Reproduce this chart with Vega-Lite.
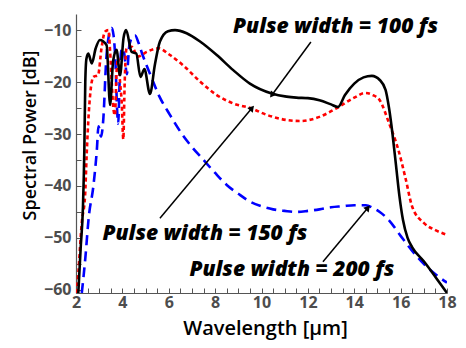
{
  "$schema": "https://vega.github.io/schema/vega-lite/v6.json",
  "width": 371,
  "height": 279,
  "autosize": {"type": "none"},
  "padding": {"left": 76, "top": 14, "right": 19, "bottom": 55},
  "config": {
    "view": {"stroke": null},
    "axis": {
      "grid": false,
      "domainColor": "#555555",
      "domainWidth": 1.2,
      "tickColor": "#555555",
      "tickSize": -5,
      "labelFont": "Open Sans",
      "labelFontSize": 15,
      "labelFontWeight": "bold",
      "labelColor": "#4d4d4d",
      "titleFont": "Open Sans",
      "titleFontSize": 18,
      "titleFontWeight": 600,
      "titleColor": "#000000"
    }
  },
  "datasets": {
    "curves": [
      {"pw": "200 fs", "wl": 2.25, "db": -60.6},
      {"pw": "200 fs", "wl": 2.4, "db": -54},
      {"pw": "200 fs", "wl": 2.55, "db": -46},
      {"pw": "200 fs", "wl": 2.75, "db": -40},
      {"pw": "200 fs", "wl": 2.9, "db": -33},
      {"pw": "200 fs", "wl": 2.97, "db": -28.5},
      {"pw": "200 fs", "wl": 3.08, "db": -30.5},
      {"pw": "200 fs", "wl": 3.18, "db": -27},
      {"pw": "200 fs", "wl": 3.3, "db": -16},
      {"pw": "200 fs", "wl": 3.42, "db": -11},
      {"pw": "200 fs", "wl": 3.54, "db": -9.6},
      {"pw": "200 fs", "wl": 3.62, "db": -11},
      {"pw": "200 fs", "wl": 3.7, "db": -16},
      {"pw": "200 fs", "wl": 3.78, "db": -26},
      {"pw": "200 fs", "wl": 3.82, "db": -28},
      {"pw": "200 fs", "wl": 3.88, "db": -20},
      {"pw": "200 fs", "wl": 3.95, "db": -14},
      {"pw": "200 fs", "wl": 4.04, "db": -13.5},
      {"pw": "200 fs", "wl": 4.12, "db": -16},
      {"pw": "200 fs", "wl": 4.19, "db": -18.5},
      {"pw": "200 fs", "wl": 4.3, "db": -13},
      {"pw": "200 fs", "wl": 4.45, "db": -11.2},
      {"pw": "200 fs", "wl": 4.54, "db": -11},
      {"pw": "200 fs", "wl": 4.7, "db": -12.5},
      {"pw": "200 fs", "wl": 4.85, "db": -14.5},
      {"pw": "200 fs", "wl": 5.0, "db": -16.3},
      {"pw": "200 fs", "wl": 5.2, "db": -18.5},
      {"pw": "200 fs", "wl": 5.6, "db": -22.8},
      {"pw": "200 fs", "wl": 6.05, "db": -26.3},
      {"pw": "200 fs", "wl": 6.6, "db": -30.2},
      {"pw": "200 fs", "wl": 7.0, "db": -32.5},
      {"pw": "200 fs", "wl": 7.5, "db": -35},
      {"pw": "200 fs", "wl": 8.0, "db": -37.5},
      {"pw": "200 fs", "wl": 8.5, "db": -39.8},
      {"pw": "200 fs", "wl": 9.0, "db": -41.5},
      {"pw": "200 fs", "wl": 9.5, "db": -43},
      {"pw": "200 fs", "wl": 10.0, "db": -43.9},
      {"pw": "200 fs", "wl": 10.5, "db": -44.5},
      {"pw": "200 fs", "wl": 11.0, "db": -44.8},
      {"pw": "200 fs", "wl": 11.5, "db": -45},
      {"pw": "200 fs", "wl": 12.0, "db": -44.8},
      {"pw": "200 fs", "wl": 12.5, "db": -44.5},
      {"pw": "200 fs", "wl": 13.0, "db": -44.1},
      {"pw": "200 fs", "wl": 13.5, "db": -43.9},
      {"pw": "200 fs", "wl": 14.0, "db": -43.7},
      {"pw": "200 fs", "wl": 14.5, "db": -43.7},
      {"pw": "200 fs", "wl": 14.8, "db": -44.2},
      {"pw": "200 fs", "wl": 15.1, "db": -45},
      {"pw": "200 fs", "wl": 15.5, "db": -46.6},
      {"pw": "200 fs", "wl": 16.0, "db": -49.6},
      {"pw": "200 fs", "wl": 16.5, "db": -52.5},
      {"pw": "200 fs", "wl": 17.0, "db": -55},
      {"pw": "200 fs", "wl": 17.5, "db": -57},
      {"pw": "200 fs", "wl": 18.0, "db": -58.6},

      {"pw": "150 fs", "wl": 2.03, "db": -60.6},
      {"pw": "150 fs", "wl": 2.1, "db": -56.8},
      {"pw": "150 fs", "wl": 2.25, "db": -47},
      {"pw": "150 fs", "wl": 2.39, "db": -42},
      {"pw": "150 fs", "wl": 2.46, "db": -34},
      {"pw": "150 fs", "wl": 2.55, "db": -26},
      {"pw": "150 fs", "wl": 2.62, "db": -22},
      {"pw": "150 fs", "wl": 2.75, "db": -19},
      {"pw": "150 fs", "wl": 2.95, "db": -18.7},
      {"pw": "150 fs", "wl": 3.1, "db": -13.5},
      {"pw": "150 fs", "wl": 3.25, "db": -10.3},
      {"pw": "150 fs", "wl": 3.4, "db": -10},
      {"pw": "150 fs", "wl": 3.47, "db": -14},
      {"pw": "150 fs", "wl": 3.54, "db": -20},
      {"pw": "150 fs", "wl": 3.61, "db": -25},
      {"pw": "150 fs", "wl": 3.68, "db": -26.4},
      {"pw": "150 fs", "wl": 3.75, "db": -18},
      {"pw": "150 fs", "wl": 3.82, "db": -15.4},
      {"pw": "150 fs", "wl": 3.9, "db": -20},
      {"pw": "150 fs", "wl": 3.97, "db": -23.8},
      {"pw": "150 fs", "wl": 4.04, "db": -31},
      {"pw": "150 fs", "wl": 4.1, "db": -20},
      {"pw": "150 fs", "wl": 4.18, "db": -13.5},
      {"pw": "150 fs", "wl": 4.4, "db": -13.2},
      {"pw": "150 fs", "wl": 4.67, "db": -15.1},
      {"pw": "150 fs", "wl": 5.05, "db": -14.2},
      {"pw": "150 fs", "wl": 5.55, "db": -13.5},
      {"pw": "150 fs", "wl": 6.05, "db": -14.8},
      {"pw": "150 fs", "wl": 6.6, "db": -16.7},
      {"pw": "150 fs", "wl": 7.35, "db": -19.9},
      {"pw": "150 fs", "wl": 8.07, "db": -22.5},
      {"pw": "150 fs", "wl": 8.77, "db": -24.1},
      {"pw": "150 fs", "wl": 9.58, "db": -25.1},
      {"pw": "150 fs", "wl": 10.22, "db": -26.3},
      {"pw": "150 fs", "wl": 11.08, "db": -27.3},
      {"pw": "150 fs", "wl": 11.66, "db": -27.5},
      {"pw": "150 fs", "wl": 12.5, "db": -26.7},
      {"pw": "150 fs", "wl": 13.25, "db": -25},
      {"pw": "150 fs", "wl": 14.0, "db": -23},
      {"pw": "150 fs", "wl": 14.46, "db": -22.1},
      {"pw": "150 fs", "wl": 14.8, "db": -22.5},
      {"pw": "150 fs", "wl": 15.1, "db": -23.5},
      {"pw": "150 fs", "wl": 15.5, "db": -27.9},
      {"pw": "150 fs", "wl": 15.9, "db": -33},
      {"pw": "150 fs", "wl": 16.2, "db": -38.3},
      {"pw": "150 fs", "wl": 16.5, "db": -44},
      {"pw": "150 fs", "wl": 17.0, "db": -47.1},
      {"pw": "150 fs", "wl": 17.5, "db": -48.5},
      {"pw": "150 fs", "wl": 18.0, "db": -49.4},

      {"pw": "100 fs", "wl": 2.1, "db": -60.6},
      {"pw": "100 fs", "wl": 2.2, "db": -52},
      {"pw": "100 fs", "wl": 2.3, "db": -44},
      {"pw": "100 fs", "wl": 2.36, "db": -33},
      {"pw": "100 fs", "wl": 2.4, "db": -20},
      {"pw": "100 fs", "wl": 2.45, "db": -15.5},
      {"pw": "100 fs", "wl": 2.53, "db": -14.5},
      {"pw": "100 fs", "wl": 2.68, "db": -16.4},
      {"pw": "100 fs", "wl": 2.85, "db": -13.5},
      {"pw": "100 fs", "wl": 3.03, "db": -11.9},
      {"pw": "100 fs", "wl": 3.32, "db": -12.9},
      {"pw": "100 fs", "wl": 3.47, "db": -24.4},
      {"pw": "100 fs", "wl": 3.6, "db": -16},
      {"pw": "100 fs", "wl": 3.75, "db": -13.8},
      {"pw": "100 fs", "wl": 3.9, "db": -18.7},
      {"pw": "100 fs", "wl": 4.05, "db": -11.5},
      {"pw": "100 fs", "wl": 4.16, "db": -10},
      {"pw": "100 fs", "wl": 4.4, "db": -14.2},
      {"pw": "100 fs", "wl": 4.6, "db": -14.5},
      {"pw": "100 fs", "wl": 4.78, "db": -19},
      {"pw": "100 fs", "wl": 4.95, "db": -17.5},
      {"pw": "100 fs", "wl": 5.19, "db": -22.3},
      {"pw": "100 fs", "wl": 5.4, "db": -16.7},
      {"pw": "100 fs", "wl": 5.62, "db": -12.2},
      {"pw": "100 fs", "wl": 5.97, "db": -10.2},
      {"pw": "100 fs", "wl": 6.27, "db": -10},
      {"pw": "100 fs", "wl": 6.77, "db": -10.6},
      {"pw": "100 fs", "wl": 7.35, "db": -12.2},
      {"pw": "100 fs", "wl": 8.07, "db": -14.8},
      {"pw": "100 fs", "wl": 8.78, "db": -17.7},
      {"pw": "100 fs", "wl": 9.5, "db": -20.3},
      {"pw": "100 fs", "wl": 10.44, "db": -22.2},
      {"pw": "100 fs", "wl": 11.08, "db": -22.8},
      {"pw": "100 fs", "wl": 11.5, "db": -23},
      {"pw": "100 fs", "wl": 12.0, "db": -23.1},
      {"pw": "100 fs", "wl": 12.5, "db": -23.5},
      {"pw": "100 fs", "wl": 13.0, "db": -24.3},
      {"pw": "100 fs", "wl": 13.3, "db": -24.8},
      {"pw": "100 fs", "wl": 13.6, "db": -22.5},
      {"pw": "100 fs", "wl": 14.0, "db": -20.3},
      {"pw": "100 fs", "wl": 14.4, "db": -19.1},
      {"pw": "100 fs", "wl": 14.76, "db": -18.8},
      {"pw": "100 fs", "wl": 15.1, "db": -19.6},
      {"pw": "100 fs", "wl": 15.35, "db": -21.5},
      {"pw": "100 fs", "wl": 15.5, "db": -25},
      {"pw": "100 fs", "wl": 15.65, "db": -30},
      {"pw": "100 fs", "wl": 15.8, "db": -36},
      {"pw": "100 fs", "wl": 15.95, "db": -42},
      {"pw": "100 fs", "wl": 16.1, "db": -46.5},
      {"pw": "100 fs", "wl": 16.3, "db": -50},
      {"pw": "100 fs", "wl": 16.5, "db": -51.8},
      {"pw": "100 fs", "wl": 17.0, "db": -54.5},
      {"pw": "100 fs", "wl": 17.5, "db": -57.5},
      {"pw": "100 fs", "wl": 18.0, "db": -60.6}
    ],
    "notes": [
      {"pw": "100 fs", "label": "Pulse width = 100 fs", "tx": 13.19, "ty": -9.4, "x0": 12.13, "y0": -12.3, "x1": 10.45, "y1": -22.5},
      {"pw": "150 fs", "label": "Pulse width = 150 fs", "tx": 7.56, "ty": -49.2, "x0": 5.62, "y0": -46.2, "x1": 9.59, "y1": -25},
      {"pw": "200 fs", "label": "Pulse width = 200 fs", "tx": 11.31, "ty": -56.2, "x0": 12.65, "y0": -54.6, "x1": 14.59, "y1": -44.2}
    ]
  },
  "encoding": {
    "x": {
      "type": "quantitative",
      "scale": {"domain": [2, 18], "nice": false, "zero": false},
      "axis": {
        "title": "Wavelength [μm]",
        "titleFontSize": 20,
        "values": [2, 2.5, 3, 3.5, 4, 4.5, 5, 5.5, 6, 6.5, 7, 7.5, 8, 8.5, 9, 9.5, 10, 10.5, 11, 11.5, 12, 12.5, 13, 13.5, 14, 14.5, 15, 15.5, 16, 16.5, 17, 17.5, 18],
        "labelExpr": "datum.value % 2 == 0 ? format(datum.value, 'd') : ''",
        "labelFontSize": 16,
        "labelPadding": 6,
        "titleX": 189,
        "titleY": 35,
        "titleBaseline": "middle",
        "titleAlign": "center",
        "labelFlush": false,
        "labelOverlap": false
      }
    },
    "y": {
      "type": "quantitative",
      "scale": {"domain": [-60.6, -6.9], "nice": false, "zero": false},
      "axis": {
        "title": "Spectral Power [dB]",
        "values": [-60, -55, -50, -45, -40, -35, -30, -25, -20, -15, -10],
        "labelExpr": "datum.value % 10 == 0 ? format(datum.value, 'd') : ''",
        "labelFontSize": 16,
        "labelPadding": 10,
        "titleX": -46,
        "titleY": 121,
        "titleBaseline": "middle",
        "titleAlign": "center",
        "labelOverlap": false
      }
    }
  },
  "layer": [
    {
      "data": {"name": "curves"},
      "transform": [{"filter": "datum.pw == '200 fs'"}],
      "mark": {"type": "line", "color": "#0000ff", "strokeWidth": 2.6, "strokeDash": [10, 6], "interpolate": "monotone", "clip": true},
      "encoding": {"x": {"field": "wl"}, "y": {"field": "db"}}
    },
    {
      "data": {"name": "curves"},
      "transform": [{"filter": "datum.pw == '150 fs'"}],
      "mark": {"type": "line", "color": "#ff0000", "strokeWidth": 2.6, "strokeDash": [4, 3], "interpolate": "monotone", "clip": true},
      "encoding": {"x": {"field": "wl"}, "y": {"field": "db"}}
    },
    {
      "data": {"name": "curves"},
      "transform": [{"filter": "datum.pw == '100 fs'"}],
      "mark": {"type": "line", "color": "#000000", "strokeWidth": 2.6, "interpolate": "monotone", "clip": true},
      "encoding": {"x": {"field": "wl"}, "y": {"field": "db"}}
    },
    {
      "data": {"name": "notes"},
      "mark": {"type": "rule", "color": "#000000", "strokeWidth": 1.5},
      "encoding": {"x": {"field": "x0"}, "y": {"field": "y0"}, "x2": {"field": "x1"}, "y2": {"field": "y1"}}
    },
    {
      "data": {"name": "notes"},
      "transform": [{"filter": "datum.pw == '100 fs'"}],
      "mark": {"type": "point", "shape": "triangle-up", "filled": true, "color": "#000000", "opacity": 1, "size": 50, "angle": 217},
      "encoding": {"x": {"field": "x1"}, "y": {"field": "y1"}}
    },
    {
      "data": {"name": "notes"},
      "transform": [{"filter": "datum.pw != '100 fs'"}],
      "mark": {"type": "point", "shape": "triangle-up", "filled": true, "color": "#000000", "opacity": 1, "size": 50, "angle": 40},
      "encoding": {"x": {"field": "x1"}, "y": {"field": "y1"}}
    },
    {
      "data": {"name": "notes"},
      "mark": {"type": "text", "font": "Open Sans", "fontSize": 21, "fontWeight": 800, "fontStyle": "italic", "color": "#000000", "align": "center", "baseline": "middle"},
      "encoding": {"x": {"field": "tx"}, "y": {"field": "ty"}, "text": {"field": "label"}}
    }
  ]
}
